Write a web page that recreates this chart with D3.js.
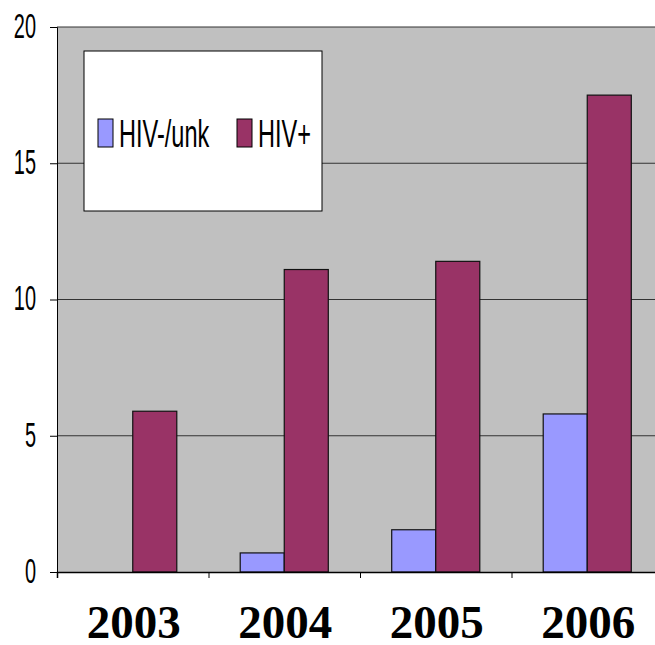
<!DOCTYPE html>
<html>
<head>
<meta charset="utf-8">
<title>HIV bars</title>
<script src="https://cdn.jsdelivr.net/npm/d3@7/dist/d3.min.js"></script>
<style>
  body { margin:0; background:#fff; overflow:hidden; }
  svg { display:block; }
</style>
</head>
<body>
<script>
var years = ["2003", "2004", "2005", "2006"];
var series = ["HIV-/unk", "HIV+"];
var hivNeg = [0, 0.7, 1.55, 5.8];
var hivPos = [5.9, 11.1, 11.4, 17.5];
var yTicks = [0, 5, 10, 15, 20];
var colors = ["#9999ff", "#993366"];

var W = 655, H = 645;
var m = {left: 57, top: 27, right: -8, bottom: 73};
var pw = W - m.left - m.right, ph = H - m.top - m.bottom;

var svg = d3.select("body").append("svg")
    .attr("width", W)
    .attr("height", H);

var g = svg.append("g")
    .attr("transform", "translate(" + m.left + "," + m.top + ")");

var x = d3.scaleBand().domain(years).range([0, pw]).paddingInner(0).paddingOuter(0);
var x1 = d3.scaleBand().domain(series).range([0, x.bandwidth()]).paddingOuter(0.72).paddingInner(0);
var y = d3.scaleLinear().domain([0, 20]).range([ph, 0]);

// plot background
g.append("rect")
    .attr("width", pw).attr("height", ph)
    .attr("fill", "#c0c0c0");

// gridlines
g.selectAll(".grid").data(yTicks.slice(1))
    .enter().append("line")
    .attr("x1", 0).attr("x2", pw)
    .attr("y1", function (d) { return y(d); })
    .attr("y2", function (d) { return y(d); })
    .attr("stroke", "#333").attr("stroke-width", 1);

// bars
var data = years.map(function (yr, i) { return {year: yr, vals: [hivNeg[i], hivPos[i]]}; });
var grp = g.selectAll(".grp").data(data).enter().append("g")
    .attr("transform", function (d) { return "translate(" + x(d.year) + ",0)"; });

grp.selectAll("rect")
    .data(function (d) { return d.vals.map(function (v, j) { return {s: series[j], v: v, j: j}; }); })
    .enter().filter(function (d) { return d.v > 0; })
    .append("rect")
    .attr("x", function (d) { return x1(d.s); })
    .attr("y", function (d) { return y(d.v); })
    .attr("width", x1.bandwidth())
    .attr("height", function (d) { return ph - y(d.v); })
    .attr("fill", function (d) { return colors[d.j]; })
    .attr("stroke", "#111").attr("stroke-width", 1.2);

// y axis
var yAxis = g.append("g").call(d3.axisLeft(y).tickValues(yTicks).tickSize(7).tickPadding(11));
yAxis.select(".domain").attr("stroke", "#000");
yAxis.selectAll("text")
    .attr("x", 0)
    .attr("font-family", "'Liberation Sans', Arial, sans-serif")
    .attr("font-size", 35)
    .attr("fill", "#000")
    .attr("dy", "0.35em")
    .attr("transform", "translate(-21,-2) scale(0.57,1)");

// x axis
var xAxis = g.append("g").attr("transform", "translate(0," + ph + ")")
    .call(d3.axisBottom(d3.scaleLinear().domain([0, 4]).range([0, pw])).ticks(4).tickSize(6).tickFormat(""));
xAxis.select(".domain").attr("stroke", "#000").attr("stroke-width", 1.5);

// year labels (descender box kept inside the window)
g.selectAll(".yr").data(years).enter().append("text")
    .attr("x", function (d) { return x(d) + x.bandwidth() / 2 + 1; })
    .attr("y", ph + 66)
    .attr("text-anchor", "middle")
    .attr("font-family", "'Liberation Serif', 'Times New Roman', serif")
    .attr("font-weight", "bold")
    .attr("font-size", 47)
    .text(function (d) { return d; });

// legend
var lg = svg.append("g").attr("transform", "translate(84,51)");
lg.append("rect")
    .attr("width", 238).attr("height", 160)
    .attr("fill", "#fff").attr("stroke", "#000").attr("stroke-width", 1);

var legX = [14, 153];
var items = lg.selectAll(".it").data(series).enter().append("g")
    .attr("transform", function (d, i) { return "translate(" + legX[i] + ",68)"; });
items.append("rect")
    .attr("width", 15).attr("height", 28)
    .attr("fill", function (d, i) { return colors[i]; })
    .attr("stroke", "#000").attr("stroke-width", 1);
items.append("text")
    .attr("transform", "translate(21,28) scale(0.62,1)")
    .attr("font-family", "'Liberation Sans', Arial, sans-serif")
    .attr("font-size", 38)
    .text(function (d) { return d; });
</script>
</body>
</html>
